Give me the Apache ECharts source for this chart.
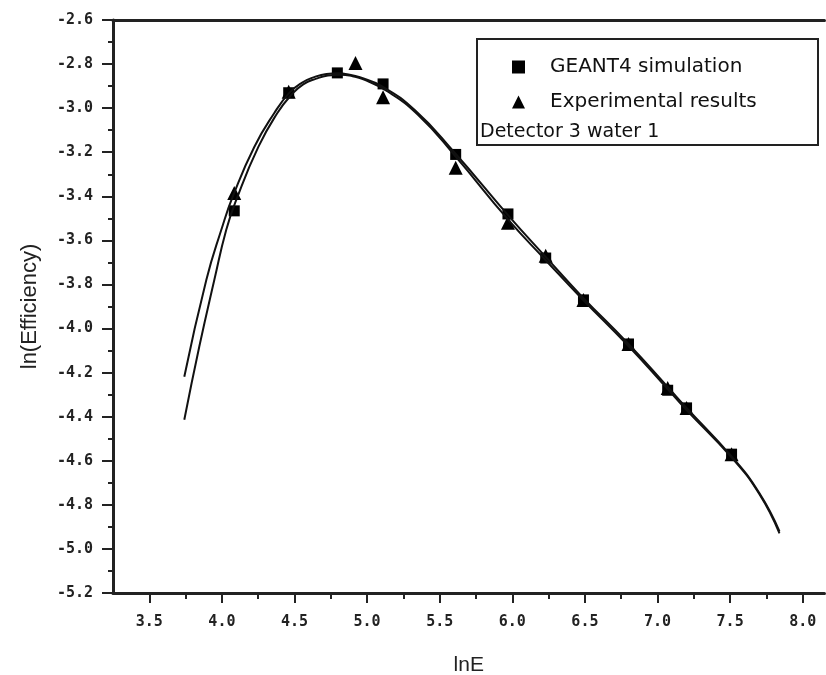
<!DOCTYPE html>
<html>
<head>
<meta charset="utf-8">
<script src="https://cdn.jsdelivr.net/npm/echarts@6/dist/echarts.min.js"></script>
<style>
html, body { margin: 0; padding: 0; background: #fff; }
#main { width: 826px; height: 675px; }
</style>
</head>
<body>
<div id="main"></div>
<script>
// measured points
var simX = [4.085, 4.46, 4.795, 5.11, 5.61, 5.97, 6.23, 6.49, 6.80, 7.07, 7.20, 7.51];
var simY = [-3.466, -2.93, -2.84, -2.89, -3.21, -3.48, -3.68, -3.87, -4.07, -4.28, -4.36, -4.57];
var expX = [4.085, 4.46, 4.92, 5.11, 5.61, 5.97, 6.23, 6.49, 6.80, 7.07, 7.20, 7.51];
var expY = [-3.385, -2.925, -2.795, -2.95, -3.27, -3.52, -3.67, -3.87, -4.07, -4.27, -4.36, -4.57];

// fitted curves
var expFitX = [3.741, 3.893, 3.996, 4.079, 4.223, 4.361, 4.464, 4.55, 4.64, 4.72, 4.80, 4.88, 4.95, 5.10, 5.33, 5.60, 5.97, 6.23, 6.48, 6.80, 7.07, 7.20, 7.51, 7.70, 7.84];
var expFitY = [-4.219, -3.779, -3.552, -3.394, -3.176, -3.022, -2.931, -2.885, -2.858, -2.845, -2.842, -2.848, -2.86, -2.90, -3.01, -3.20, -3.485, -3.675, -3.855, -4.07, -4.265, -4.36, -4.58, -4.745, -4.92];
var simFitX = [3.741, 3.844, 3.948, 4.03, 4.099, 4.251, 4.382, 4.478, 4.56, 4.65, 4.73, 4.82, 4.90, 4.97, 5.13, 5.35, 5.61, 5.97, 6.23, 6.48, 6.80, 7.07, 7.20, 7.51, 7.70, 7.84];
var simFitY = [-4.414, -4.083, -3.779, -3.552, -3.416, -3.176, -3.022, -2.94, -2.892, -2.866, -2.852, -2.848, -2.855, -2.868, -2.92, -3.03, -3.22, -3.505, -3.69, -3.865, -4.08, -4.275, -4.37, -4.585, -4.75, -4.93];

var xTicks = [3.5, 4.0, 4.5, 5.0, 5.5, 6.0, 6.5, 7.0, 7.5, 8.0];
var xMinor = [3.75, 4.25, 4.75, 5.25, 5.75, 6.25, 6.75, 7.25, 7.75];
var names = ['GEANT4 simulation', 'Experimental results'];

function pairs(xs, ys) {
	var out = [];
	for (var i = 0; i < xs.length; i++) out.push([xs[i], ys[i]]);
	return out;
}

var axisColor = '#222';
var tickFont = { fontFamily: 'DejaVu Sans Mono', fontWeight: 'bold', fontSize: 15, color: '#222' };

var myChart = echarts.init(document.getElementById('main'));
var option = {
	animation: false,
	grid: { left: 113, top: 20, bottom: 82, right: 1.5, outerBoundsMode: 'none', containLabel: false },
	legend: {
		data: names,
		orient: 'vertical',
		left: 507,
		top: 52,
		itemGap: 15,
		itemWidth: 13,
		itemHeight: 13,
		textStyle: { fontFamily: 'DejaVu Sans', fontSize: 20, color: '#111', padding: [0, 0, 0, 20] }
	},
	graphic: [
		{ type: 'rect', shape: { x: 477, y: 39, width: 341, height: 106 }, style: { fill: 'none', stroke: '#222', lineWidth: 2 } },
		{ type: 'text', x: 480, y: 132, style: { text: 'Detector 3 water 1', fontFamily: 'DejaVu Sans', fontSize: 19, fill: '#111', verticalAlign: 'middle' } }
	],
	xAxis: [{
		type: 'value',
		min: 3.25,
		max: 8.15,
		position: 'bottom',
		name: 'lnE',
		nameLocation: 'middle',
		nameGap: 62,
		nameTextStyle: { fontFamily: 'Liberation Sans', fontSize: 21, color: '#222' },
		axisLine: { show: true, lineStyle: { color: axisColor, width: 3 } },
		axisTick: { show: true, customValues: xTicks, length: 10, lineStyle: { color: axisColor, width: 2 } },
		axisLabel: Object.assign({ customValues: xTicks, margin: 22, formatter: function(v) { return v.toFixed(1); } }, tickFont),
		splitLine: { show: false }
	}, {
		type: 'value',
		min: 3.25,
		max: 8.15,
		position: 'bottom',
		axisLine: { show: false },
		axisTick: { show: true, customValues: xMinor, length: 6, lineStyle: { color: axisColor, width: 2 } },
		axisLabel: { show: false },
		splitLine: { show: false }
	}, {
		type: 'value',
		min: 3.25,
		max: 8.15,
		position: 'top',
		axisLine: { show: true, lineStyle: { color: axisColor, width: 3 } },
		axisTick: { show: false },
		axisLabel: { show: false },
		splitLine: { show: false }
	}],
	yAxis: {
		type: 'value',
		min: -5.2,
		max: -2.6,
		interval: 0.2,
		name: 'ln(Efficiency)',
		nameLocation: 'middle',
		nameGap: 72,
		nameTextStyle: { fontFamily: 'Liberation Sans', fontSize: 22, color: '#222' },
		axisLine: { show: true, lineStyle: { color: axisColor, width: 3 } },
		axisTick: { show: true, length: 11, lineStyle: { color: axisColor, width: 2 } },
		minorTick: { show: true, splitNumber: 2, length: 5, lineStyle: { color: axisColor, width: 2 } },
		axisLabel: Object.assign({ margin: 20, formatter: function(v) { return v.toFixed(1); } }, tickFont),
		splitLine: { show: false }
	},
	series: [{
		type: 'line',
		data: pairs(expFitX, expFitY),
		smooth: 0.5,
		symbol: 'none',
		silent: true,
		lineStyle: { color: '#111', width: 2 }
	}, {
		type: 'line',
		data: pairs(simFitX, simFitY),
		smooth: 0.5,
		symbol: 'none',
		silent: true,
		lineStyle: { color: '#111', width: 2 }
	}, {
		name: names[0],
		type: 'scatter',
		data: pairs(simX, simY),
		symbol: 'rect',
		symbolSize: 11,
		itemStyle: { color: '#000', opacity: 1 }
	}, {
		name: names[1],
		type: 'scatter',
		data: pairs(expX, expY),
		symbol: 'triangle',
		symbolSize: 14,
		itemStyle: { color: '#000', opacity: 1 }
	}]
};
myChart.setOption(option);
</script>
</body>
</html>
